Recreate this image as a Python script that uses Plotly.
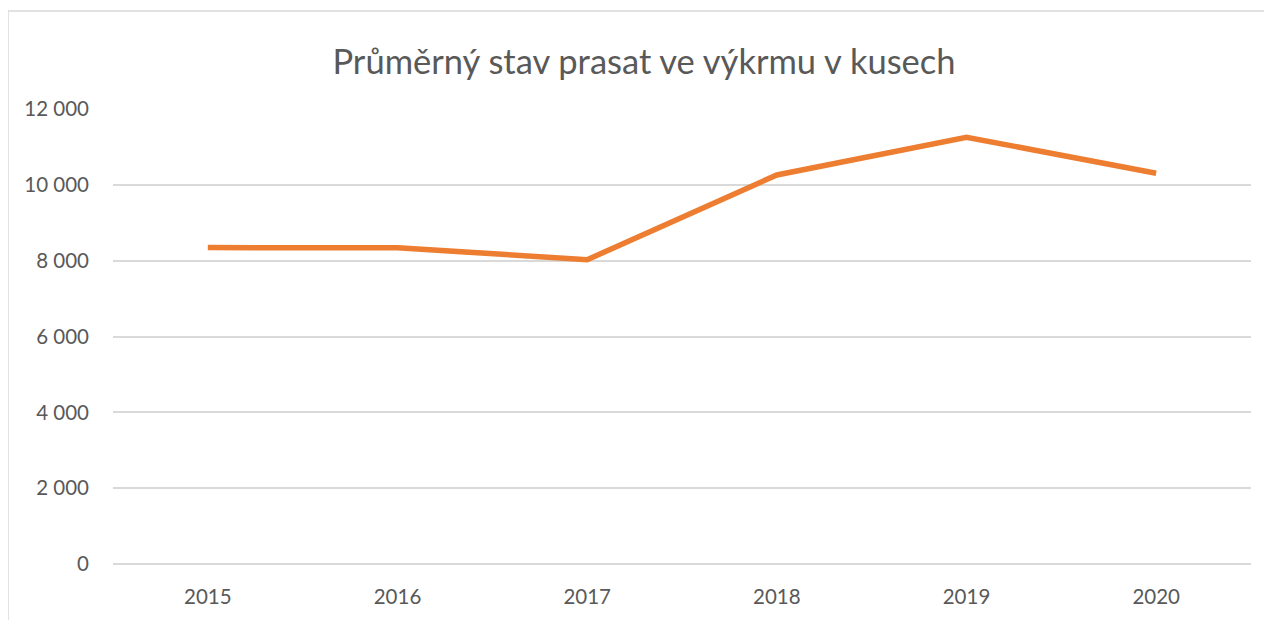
import plotly.graph_objects as go

years = ["2015", "2016", "2017", "2018", "2019", "2020"]
values = [8345, 8340, 8025, 10260, 11255, 10305]
y_ticks = [0, 2000, 4000, 6000, 8000, 10000, 12000]
y_tick_labels = ["0", "2 000", "4 000", "6 000", "8 000", "10 000", "12 000"]
title_text = "Průměrný stav prasat ve výkrmu v kusech"

fig = go.Figure(go.Scatter(
    x=years, y=values, mode="lines",
    line=dict(color="#ED7D31", width=5.5, shape="linear"),
    hoverinfo="x+y",
))

W, H = 1272, 620
ml, mr, mt, mb = 105, 29, 101, 64
pw, ph = W - ml - mr, H - mt - mb

def px_to_paper_x(px):
    return (px - ml) / pw

def px_to_paper_y(py):
    return (H - mb - py) / ph

FONT = "Lato, 'Open Sans', sans-serif"

fig.update_layout(
    width=W, height=H,
    margin=dict(l=ml, r=mr, t=mt, b=mb),
    paper_bgcolor="white", plot_bgcolor="white",
    showlegend=False,
    font=dict(family=FONT, color="#595959"),
    title=dict(text=title_text, x=0.5, xanchor="center", y=1 - 54 / H, yanchor="middle",
               font=dict(size=34.5, color="#595959", family=FONT)),
    xaxis=dict(type="category", range=[-0.5, 5.5], showgrid=False, zeroline=False,
               showline=False, ticks="", tickfont=dict(size=20.5, color="#595959"),
               ticklabelstandoff=18, fixedrange=True),
    yaxis=dict(range=[0, 12000], tickvals=y_ticks, ticktext=y_tick_labels,
               showgrid=True, gridcolor="#D9D9D9", gridwidth=1.5,
               zeroline=True, zerolinecolor="#D9D9D9", zerolinewidth=1.5,
               showline=False, ticks="", tickfont=dict(size=20.5, color="#595959"),
               ticklabelstandoff=23, fixedrange=True),
    shapes=[dict(type="rect", xref="paper", yref="paper",
                 x0=px_to_paper_x(0), x1=px_to_paper_x(1300),
                 y0=px_to_paper_y(700), y1=px_to_paper_y(3),
                 line=dict(color="#D9D9D9", width=1.5), fillcolor="rgba(0,0,0,0)",
                 layer="below")],
)

fig.write_html("out.html")
